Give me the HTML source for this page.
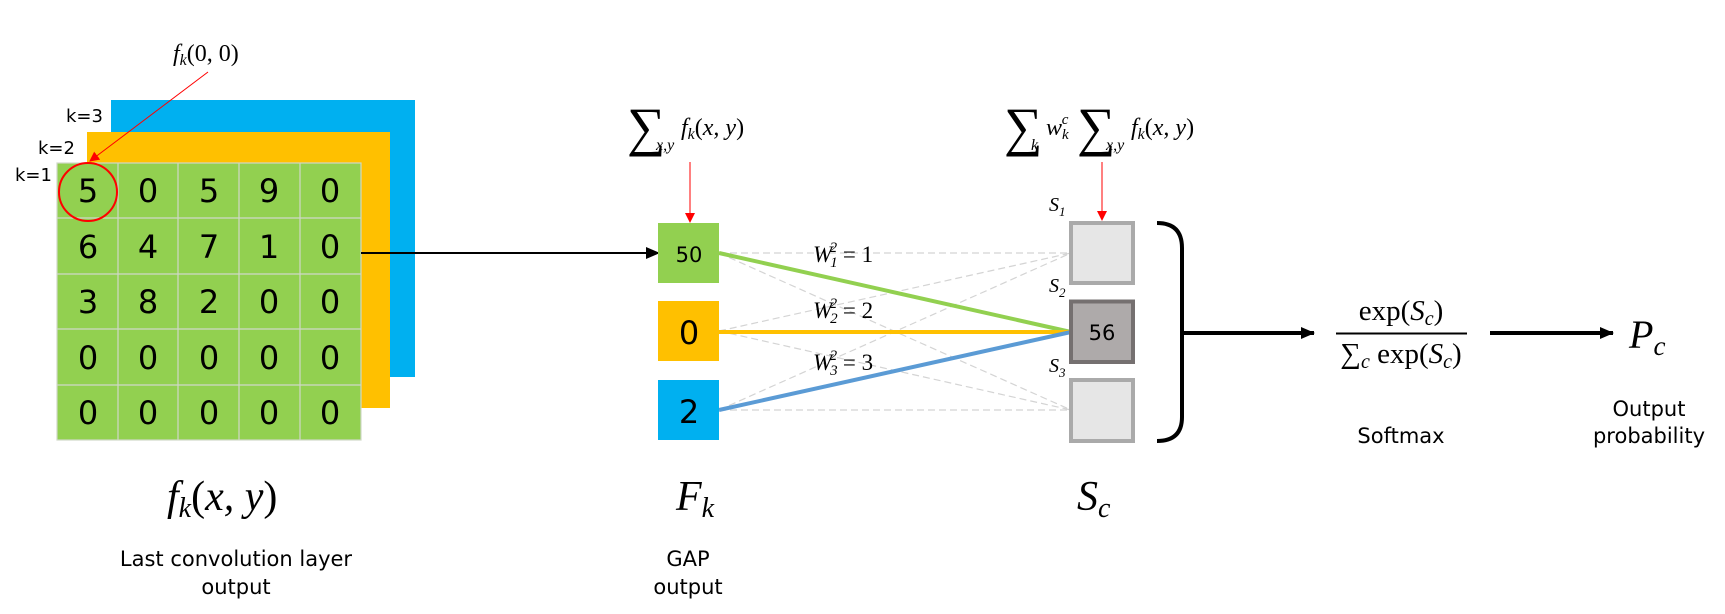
<!DOCTYPE html>
<html><head><meta charset="utf-8"><style>
html,body{margin:0;padding:0;background:#fff;}
svg{display:block;}
.s{font-family:"DejaVu Sans","Liberation Sans",sans-serif;}
.m{font-family:"Liberation Serif",serif;font-style:italic;}
.r{font-family:"Liberation Serif",serif;}
</style></head><body>
<svg width="1725" height="614" viewBox="0 0 1725 614" xmlns="http://www.w3.org/2000/svg">
<defs>
<marker id="ar" markerWidth="10" markerHeight="10" refX="9" refY="5" orient="auto" markerUnits="userSpaceOnUse"><path d="M0,0 L10,5 L0,10 z" fill="#f00"/></marker>
<marker id="ab" markerWidth="14" markerHeight="12" refX="13" refY="6" orient="auto" markerUnits="userSpaceOnUse"><path d="M0,0 L14,6 L0,12 z" fill="#000"/></marker>
</defs>
<rect x="111" y="100" width="304" height="277" fill="#00b0f0"/>
<rect x="87" y="132" width="303" height="276" fill="#ffc000"/>
<rect x="57" y="163" width="304" height="277" fill="#92d050"/>
<g stroke="#d0d8c8" stroke-width="1.2">
<line x1="118" y1="163" x2="118" y2="440"/><line x1="178" y1="163" x2="178" y2="440"/>
<line x1="239" y1="163" x2="239" y2="440"/><line x1="300" y1="163" x2="300" y2="440"/>
<line x1="57" y1="218" x2="361" y2="218"/><line x1="57" y1="274" x2="361" y2="274"/>
<line x1="57" y1="329" x2="361" y2="329"/><line x1="57" y1="385" x2="361" y2="385"/>
<rect x="57" y="163" width="304" height="277" fill="none"/>
</g>
<g class="s" font-size="32" text-anchor="middle" fill="#000">
<text x="88" y="202">5</text><text x="148" y="202">0</text><text x="209" y="202">5</text><text x="269" y="202">9</text><text x="330" y="202">0</text>
<text x="88" y="258">6</text><text x="148" y="258">4</text><text x="209" y="258">7</text><text x="269" y="258">1</text><text x="330" y="258">0</text>
<text x="88" y="313">3</text><text x="148" y="313">8</text><text x="209" y="313">2</text><text x="269" y="313">0</text><text x="330" y="313">0</text>
<text x="88" y="369">0</text><text x="148" y="369">0</text><text x="209" y="369">0</text><text x="269" y="369">0</text><text x="330" y="369">0</text>
<text x="88" y="424">0</text><text x="148" y="424">0</text><text x="209" y="424">0</text><text x="269" y="424">0</text><text x="330" y="424">0</text>
</g>
<g class="s" font-size="18">
<text x="66" y="122">k=3</text><text x="38" y="154">k=2</text><text x="15" y="181">k=1</text>
</g>
<ellipse cx="88" cy="192" rx="29" ry="29" fill="none" stroke="#f00" stroke-width="2"/>
<line x1="208" y1="72" x2="90" y2="161" stroke="#f00" stroke-width="1" marker-end="url(#ar)"/>
<text class="m" x="173" y="61" font-size="24">f<tspan font-size="16" dy="4">k</tspan><tspan class="r" font-style="normal" dy="-4">(0, 0)</tspan></text>
<text class="m" x="167" y="510" font-size="42">f<tspan font-size="28" dy="7">k</tspan><tspan dy="-7" font-style="normal">(</tspan>x, y<tspan font-style="normal">)</tspan></text>
<g class="s" font-size="21" text-anchor="middle">
<text x="236" y="566">Last convolution layer</text><text x="236" y="594">output</text>
<text x="688" y="566">GAP</text><text x="688" y="594">output</text>
<text x="1401" y="443">Softmax</text>
<text x="1649" y="416">Output</text><text x="1649" y="443">probability</text>
</g>
<line x1="361" y1="253" x2="659" y2="253" stroke="#000" stroke-width="2" marker-end="url(#ab)"/>
<g stroke="#d4d4d4" stroke-width="1.2" stroke-dasharray="7,4">
<line x1="719" y1="253" x2="1071" y2="253"/><line x1="719" y1="253" x2="1071" y2="410"/>
<line x1="719" y1="331" x2="1071" y2="253"/><line x1="719" y1="331" x2="1071" y2="410"/>
<line x1="719" y1="410" x2="1071" y2="253"/><line x1="719" y1="410" x2="1071" y2="410"/>
</g>
<line x1="719" y1="253" x2="1071" y2="332" stroke="#92d050" stroke-width="4"/>
<line x1="719" y1="332" x2="1071" y2="332" stroke="#ffc000" stroke-width="4"/>
<line x1="719" y1="410" x2="1071" y2="332" stroke="#5b9bd5" stroke-width="4"/>
<rect x="658" y="223" width="61" height="60" fill="#92d050"/>
<rect x="658" y="301" width="61" height="60" fill="#ffc000"/>
<rect x="658" y="380" width="61" height="60" fill="#00b0f0"/>
<g class="s" text-anchor="middle">
<text x="689" y="262" font-size="21">50</text>
<text x="689" y="344" font-size="32">0</text>
<text x="689" y="423" font-size="32">2</text>
</g>
<g class="m" font-size="23">
<text x="813" y="262">W<tspan font-size="15" dx="-2" dy="5">1</tspan><tspan font-size="15" dx="-8" dy="-15">2</tspan><tspan class="r" font-style="normal" dy="10"> = 1</tspan></text>
<text x="813" y="318">W<tspan font-size="15" dx="-2" dy="5">2</tspan><tspan font-size="15" dx="-8" dy="-15">2</tspan><tspan class="r" font-style="normal" dy="10"> = 2</tspan></text>
<text x="813" y="370">W<tspan font-size="15" dx="-2" dy="5">3</tspan><tspan font-size="15" dx="-8" dy="-15">2</tspan><tspan class="r" font-style="normal" dy="10"> = 3</tspan></text>
</g>
<text x="627" y="145" class="r" font-size="54">∑</text>
<text x="656" y="150" class="m" font-size="16">x,y</text>
<text x="681" y="135" class="m" font-size="24">f<tspan font-size="16" dy="4">k</tspan><tspan dy="-4" font-style="normal">(</tspan>x, y<tspan font-style="normal">)</tspan></text>
<line x1="690" y1="162" x2="690" y2="222" stroke="#f00" stroke-width="1" marker-end="url(#ar)"/>
<text x="1004" y="145" class="r" font-size="54">∑</text>
<text x="1031" y="150" class="m" font-size="16">k</text>
<text x="1046" y="135" class="m" font-size="24">w<tspan font-size="15" dy="4">k</tspan><tspan font-size="15" dx="-7" dy="-15">c</tspan></text>
<text x="1077" y="145" class="r" font-size="54">∑</text>
<text x="1106" y="150" class="m" font-size="16">x,y</text>
<text x="1131" y="135" class="m" font-size="24">f<tspan font-size="16" dy="4">k</tspan><tspan dy="-4" font-style="normal">(</tspan>x, y<tspan font-style="normal">)</tspan></text>
<line x1="1102" y1="162" x2="1102" y2="220" stroke="#f00" stroke-width="1" marker-end="url(#ar)"/>
<rect x="1071" y="223" width="62" height="60" fill="#e6e6e6" stroke="#aaa" stroke-width="4"/>
<rect x="1071" y="301.5" width="62" height="60.5" fill="#aeaaaa" stroke="#757070" stroke-width="4"/>
<rect x="1071" y="380" width="62" height="61" fill="#e6e6e6" stroke="#aaa" stroke-width="4"/>
<text x="1102" y="340" class="s" font-size="21" text-anchor="middle">56</text>
<g class="m" font-size="20">
<text x="1049" y="211">S<tspan font-size="13" dy="5">1</tspan></text>
<text x="1049" y="292">S<tspan font-size="13" dy="5">2</tspan></text>
<text x="1049" y="372">S<tspan font-size="13" dy="5">3</tspan></text>
</g>
<text class="m" x="676" y="510" font-size="42">F<tspan font-size="28" dy="7">k</tspan></text>
<text class="m" x="1077" y="510" font-size="42">S<tspan font-size="28" dy="7">c</tspan></text>
<path d="M1157,223 Q1182,223 1182,248 L1182,417 Q1182,441 1157,441" fill="none" stroke="#000" stroke-width="4"/>
<line x1="1182" y1="333" x2="1314" y2="333" stroke="#000" stroke-width="4" marker-end="url(#ab)"/>
<text x="1401" y="320" class="r" font-size="29" text-anchor="middle">exp(<tspan font-style="italic">S<tspan font-size="20" dy="5">c</tspan></tspan><tspan dy="-5">)</tspan></text>
<line x1="1336" y1="333.5" x2="1467" y2="333.5" stroke="#000" stroke-width="2"/>
<text x="1401" y="363" class="r" font-size="29" text-anchor="middle">∑<tspan font-style="italic" font-size="20" dy="5">c</tspan><tspan dy="-5"> exp(</tspan><tspan font-style="italic">S<tspan font-size="20" dy="5">c</tspan></tspan><tspan dy="-5">)</tspan></text>
<line x1="1490" y1="333" x2="1613" y2="333" stroke="#000" stroke-width="4" marker-end="url(#ab)"/>
<text class="m" x="1629" y="348" font-size="40">P<tspan font-size="27" dy="7">c</tspan></text>
</svg>
</body></html>
